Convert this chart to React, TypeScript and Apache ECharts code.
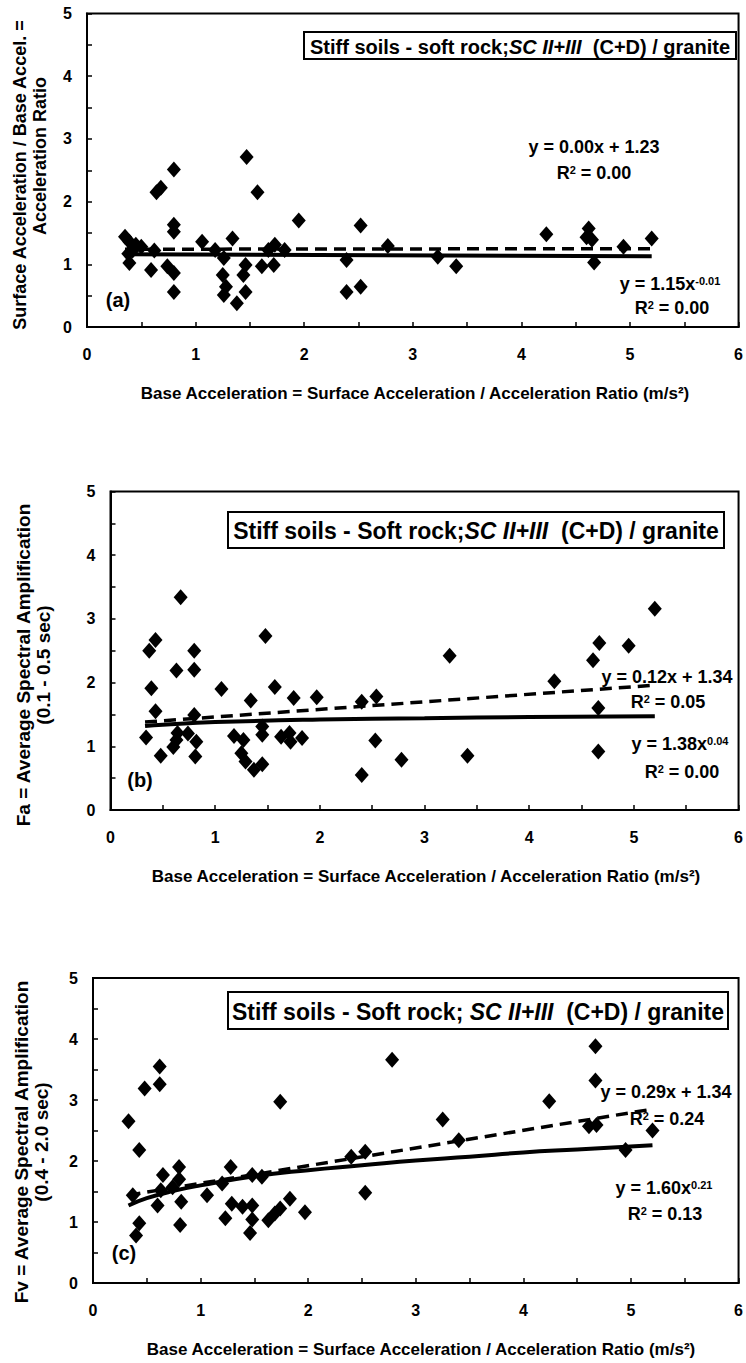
import React, { useEffect, useRef } from 'react';
import * as echarts from 'echarts';

const FONT = "'Liberation Sans', Arial, sans-serif";

// Panel (a): acceleration ratio vs base acceleration
const aPoints = [
  [0.35, 1.44], [0.39, 1.36], [0.45, 1.31], [0.5, 1.28], [0.38, 1.17], [0.39, 1.02], [0.42, 1.22],
  [0.59, 0.91], [0.62, 1.22], [0.64, 2.15], [0.68, 2.22], [0.8, 2.51], [0.8, 1.63], [0.8, 1.52],
  [0.74, 0.97], [0.8, 0.86], [0.8, 0.56], [1.06, 1.36], [1.34, 1.41], [1.26, 1.1], [1.18, 1.23],
  [1.25, 0.83], [1.28, 0.64], [1.26, 0.51], [1.38, 0.38], [1.46, 0.56], [1.44, 0.83], [1.46, 0.99],
  [1.47, 2.71], [1.57, 2.15], [1.95, 1.7], [1.61, 0.97], [1.72, 0.99], [1.73, 1.31], [1.82, 1.23],
  [1.67, 1.23], [2.39, 1.07], [2.39, 0.56], [2.52, 0.64], [2.52, 1.62], [2.77, 1.29], [3.23, 1.12],
  [3.4, 0.97], [4.23, 1.48], [4.62, 1.57], [4.6, 1.43], [4.65, 1.39], [4.67, 1.03], [4.94, 1.28],
  [5.2, 1.41],
];
const aLinear = [[0.35, 1.24], [5.2, 1.25]];
const aPower = [[0.35, 1.16], [5.2, 1.13]];

// Panel (b): Fa
const bPoints = [
  [0.67, 3.34], [0.43, 2.67], [0.37, 2.5], [0.8, 2.5], [0.63, 2.19], [0.8, 2.2], [0.39, 1.91],
  [1.06, 1.9], [1.48, 2.73], [1.57, 1.93], [1.34, 1.72], [1.75, 1.76], [1.97, 1.77], [2.4, 1.7],
  [2.54, 1.78], [0.43, 1.55], [0.8, 1.49], [0.34, 1.14], [0.48, 0.85], [0.6, 0.99], [0.63, 1.1],
  [0.64, 1.21], [0.74, 1.2], [0.82, 1.07], [0.81, 0.84], [1.18, 1.16], [1.27, 1.1], [1.25, 0.89],
  [1.29, 0.76], [1.37, 0.63], [1.45, 0.72], [1.45, 1.31], [1.45, 1.18], [1.63, 1.15], [1.71, 1.21],
  [1.72, 1.07], [1.83, 1.13], [2.4, 0.55], [2.53, 1.09], [2.78, 0.79], [3.24, 2.42], [3.41, 0.85],
  [4.24, 2.02], [4.61, 2.35], [4.67, 2.62], [4.95, 2.58], [5.2, 3.16], [4.66, 1.6], [4.66, 0.92],
];
const bLinear = [[0.33, 1.38], [5.2, 1.96]];
const bPower = [[0.33, 1.32], [0.5, 1.34], [1, 1.38], [2, 1.42], [3, 1.44], [4, 1.46], [5.2, 1.47]];

// Panel (c): Fv
const cPoints = [
  [0.62, 3.55], [0.48, 3.19], [0.62, 3.26], [0.33, 2.65], [0.43, 2.18], [2.78, 3.66], [1.74, 2.97],
  [0.37, 1.44], [0.65, 1.77], [0.8, 1.9], [0.8, 1.7], [0.6, 1.27], [0.63, 1.52], [0.74, 1.57],
  [0.82, 1.33], [0.81, 0.95], [0.43, 0.98], [0.4, 0.78], [1.06, 1.44], [1.2, 1.63], [1.28, 1.9],
  [1.48, 1.77], [1.57, 1.74], [1.29, 1.3], [1.39, 1.25], [1.48, 1.27], [1.23, 1.06], [1.48, 1.04],
  [1.46, 0.82], [1.63, 1.03], [1.69, 1.14], [1.74, 1.22], [1.83, 1.38], [1.97, 1.16], [2.4, 2.07],
  [2.53, 2.15], [2.53, 1.48], [4.67, 3.88], [4.67, 3.32], [4.24, 2.98], [3.25, 2.68], [3.4, 2.34],
  [4.61, 2.57], [4.68, 2.59], [5.2, 2.5], [4.95, 2.18],
];
const cLinear = [[0.33, 1.44], [5.2, 2.85]];
const cPower = [
  [0.33, 1.27], [0.5, 1.39], [0.75, 1.51], [1, 1.6], [1.5, 1.75], [2, 1.85], [2.5, 1.93],
  [3, 2.01], [3.5, 2.07], [4, 2.14], [4.5, 2.19], [5.2, 2.26],
];

const xTitle = 'Base Acceleration = Surface Acceleration / Acceleration Ratio (m/s²)';
const yTitleLines = [
  ['Surface Acceleration / Base Accel. =', 'Acceleration Ratio'],
  ['Fa = Average Spectral Amplification', '(0.1 - 0.5 sec)'],
  ['Fv = Average Spectral Amplification', '(0.4 - 2.0 sec)'],
];
const boxTexts = [
  ['Stiff soils - soft rock;', 'SC II+III', '  (C+D) / granite'],
  ['Stiff soils - Soft rock;', 'SC II+III', '  (C+D) / granite'],
  ['Stiff soils - Soft rock; ', 'SC II+III', '  (C+D) / granite'],
];
const linEq = [['y = 0.00x + 1.23', '0.00'], ['y = 0.12x + 1.34', '0.05'], ['y = 0.29x + 1.34', '0.24']];
const powEq = [['y = 1.15x', '-0.01', '0.00'], ['y = 1.38x', '0.04', '0.00'], ['y = 1.60x', '0.21', '0.13']];
const panelLabels = ['(a)', '(b)', '(c)'];

const grids = [
  { left: 87, top: 13.5, width: 655, height: 313.5 },
  { left: 110.5, top: 491.5, width: 632, height: 318.5 },
  { left: 93, top: 978, width: 650, height: 305 },
];

const boxes = [
  { x: 304, y: 32, w: 432, h: 27, fs: 20 },
  { x: 228, y: 512, w: 496, h: 36, fs: 23 },
  { x: 228, y: 992, w: 500, h: 37, fs: 23 },
];
const linPos = [[594, 147, 594, 173], [667, 677, 668, 702], [666, 1092, 667, 1119]];
const powPos = [[670, 284, 672, 308], [680, 744, 682, 772], [664, 1188, 665, 1214]];
const labelPos = [[118, 300], [140, 780], [124, 1253]];
const xTitlePos = [[415, 393], [426, 876], [421, 1349]];
// [x line1, y line1, x line2, y line2, font size]
const yTitlePos = [[20, 175, 40, 156, 18], [23, 665, 43, 665, 19], [21, 1142, 41, 1142, 19]];

export default function App() {
  const ref = useRef<HTMLDivElement>(null);
  useEffect(() => {
    document.body.style.margin = '0';
    const chart = echarts.init(ref.current!, undefined, { renderer: 'svg' });
    const bold = { fontFamily: FONT, fontWeight: 'bold' as const, color: '#000' };
    const xAxes = grids.map((_, i) => ({
      type: 'value', gridIndex: i, min: 0, max: 6, interval: 1,
      axisLine: { show: true, onZero: false, lineStyle: { color: '#000', width: 2 } },
      axisTick: { show: true, inside: true, length: 5, lineStyle: { color: '#000', width: 1.5 } },
      minorTick: { show: true, splitNumber: 2, length: 5, lineStyle: { color: '#000', width: 1.5 } },
      splitLine: { show: false },
      axisLabel: { ...bold, fontSize: 16, margin: 19 },
    }));
    const yAxes = grids.map((_, i) => ({
      type: 'value', gridIndex: i, min: 0, max: 5, interval: 1,
      axisLine: { show: true, onZero: false, lineStyle: { color: '#000', width: 2 } },
      axisTick: { show: true, inside: true, length: 5, lineStyle: { color: '#000', width: 1.5 } },
      minorTick: { show: true, splitNumber: 2, length: 5, lineStyle: { color: '#000', width: 1.5 } },
      splitLine: { show: false },
      axisLabel: { ...bold, fontSize: 16, margin: 15 },
    }));
    const sets = [
      [aPoints, aLinear, aPower],
      [bPoints, bLinear, bPower],
      [cPoints, cLinear, cPower],
    ];
    const series: any[] = [];
    sets.forEach(([pts, lin, pow], i) => {
      series.push({
        type: 'scatter', xAxisIndex: i, yAxisIndex: i, data: pts,
        symbol: 'diamond', symbolSize: [14, 16], itemStyle: { color: '#000', opacity: 1 }, z: 3,
      });
      series.push({
        type: 'line', xAxisIndex: i, yAxisIndex: i, data: lin, showSymbol: false,
        lineStyle: { color: '#000', width: 3.5, type: [12, 7] }, z: 4,
      });
      series.push({
        type: 'line', xAxisIndex: i, yAxisIndex: i, data: pow, showSymbol: false, smooth: true,
        lineStyle: { color: '#000', width: 4 }, z: 4,
      });
    });
    const graphic: any[] = [];
    const sup = (fs: number) => ({ fontFamily: FONT, fontWeight: 'bold', fontSize: fs, verticalAlign: 'top' });
    const norm = (fs: number) => ({ fontFamily: FONT, fontWeight: 'bold', fontSize: fs });
    grids.forEach((_, i) => {
      const b = boxes[i];
      graphic.push({
        type: 'rect', shape: { x: b.x, y: b.y, width: b.w, height: b.h },
        style: { fill: '#fff', stroke: '#000', lineWidth: 2 }, z: 10,
      });
      const bt = boxTexts[i];
      graphic.push({
        type: 'text', x: b.x + b.w / 2, y: b.y + b.h / 2 + 1, z: 11,
        style: {
          text: `{n|${bt[0]}}{it|${bt[1]}}{n|${bt[2]}}`,
          align: 'center', verticalAlign: 'middle', fill: '#000',
          rich: {
            n: { fontFamily: FONT, fontWeight: 'bold', fontSize: b.fs },
            it: { fontFamily: FONT, fontWeight: 'bold', fontStyle: 'italic', fontSize: b.fs },
          },
        },
      });
      const lp = linPos[i];
      graphic.push({
        type: 'text', x: lp[0], y: lp[1], z: 11,
        style: { text: linEq[i][0], align: 'center', verticalAlign: 'middle', fill: '#000', font: `bold 18px ${FONT}` },
      });
      graphic.push({
        type: 'text', x: lp[2], y: lp[3], z: 11,
        style: {
          text: `{n|R}{s|2}{n| = ${linEq[i][1]}}`, align: 'center', verticalAlign: 'middle', fill: '#000',
          rich: { n: norm(18), s: sup(11) },
        },
      });
      const pp = powPos[i];
      graphic.push({
        type: 'text', x: pp[0], y: pp[1], z: 11,
        style: {
          text: `{n|${powEq[i][0]}}{s|${powEq[i][1]}}`, align: 'center', verticalAlign: 'middle', fill: '#000',
          rich: { n: norm(18), s: sup(11) },
        },
      });
      graphic.push({
        type: 'text', x: pp[2], y: pp[3], z: 11,
        style: {
          text: `{n|R}{s|2}{n| = ${powEq[i][2]}}`, align: 'center', verticalAlign: 'middle', fill: '#000',
          rich: { n: norm(18), s: sup(11) },
        },
      });
      graphic.push({
        type: 'text', x: labelPos[i][0], y: labelPos[i][1], z: 11,
        style: { text: panelLabels[i], align: 'center', verticalAlign: 'middle', fill: '#000', font: `bold 20px ${FONT}` },
      });
      graphic.push({
        type: 'text', x: xTitlePos[i][0], y: xTitlePos[i][1], z: 11,
        style: { text: xTitle, align: 'center', verticalAlign: 'middle', fill: '#000', font: `bold 17px ${FONT}` },
      });
      const yp = yTitlePos[i];
      yTitleLines[i].forEach((line, k) => {
        graphic.push({
          type: 'text', x: yp[k * 2], y: yp[k * 2 + 1], rotation: Math.PI / 2, z: 11,
          style: {
            text: line, align: 'center', verticalAlign: 'middle', fill: '#000',
            font: `bold ${yp[4]}px ${FONT}`,
          },
        });
      });
    });
    chart.setOption({
      animation: false,
      backgroundColor: '#fff',
      grid: grids.map((g) => ({ ...g, show: true, borderColor: '#000', borderWidth: 2, backgroundColor: 'transparent' })),
      xAxis: xAxes,
      yAxis: yAxes,
      series,
      graphic,
    });
    return () => chart.dispose();
  }, []);
  return <div ref={ref} style={{ position: 'absolute', left: 0, top: 0, width: 746, height: 1363 }} />;
}
